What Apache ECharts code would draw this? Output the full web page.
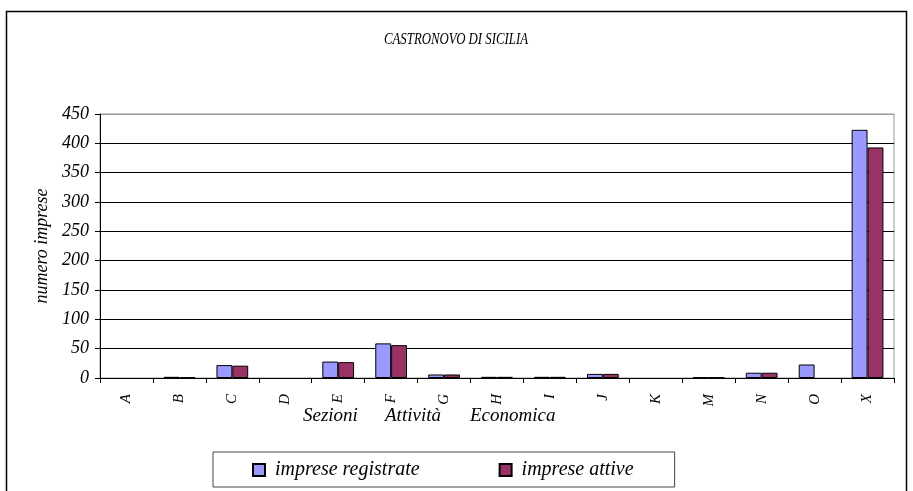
<!DOCTYPE html>
<html>
<head>
<meta charset="utf-8">
<script src="https://cdn.jsdelivr.net/npm/echarts@6/dist/echarts.min.js"></script>
<style>
html,body{margin:0;padding:0;background:#fff;}
#c{width:913px;height:491px;}
</style>
</head>
<body>
<div id="c"></div>
<script>
const categories = ['A','B','C','D','E','F','G','H','I','J','K','M','N','O','X'];
const impreseRegistrate = [0, 2, 22, 0, 28, 59, 6, 2, 2, 7, 0, 1, 9, 23, 423];
const impreseAttive     = [0, 1, 21, 0, 27, 56, 6, 2, 2, 7, 0, 1, 9, 0, 393];
const yTicks = [0, 50, 100, 150, 200, 250, 300, 350, 400, 450];
const chartTitle = 'CASTRONOVO DI SICILIA';
const xTitleWords = ['Sezioni', 'Attività', 'Economica'];
const yTitle = 'numero imprese';

const FONT = '"Liberation Serif", "Times New Roman", serif';
// zero values are not drawn (no outlined empty bar), as in the reference
const toBars = arr => arr.map(v => (v === 0 ? '-' : v));
const splitColors = yTicks.map((t, i) => (i === yTicks.length - 1 ? '#999' : '#000'));
const xWordPos = [303, 385, 470];

const chart = echarts.init(document.getElementById('c'), null, {renderer: 'canvas'});
chart.setOption({
  animation: false,
  backgroundColor: '#fff',
  grid: {left: 100, right: 19, top: 114, bottom: 113, show: true, borderColor: '#999', borderWidth: 1},
  legend: {
    data: ['imprese registrate', 'imprese attive'],
    left: 213, top: 452,
    padding: [8, 41, 7, 39],
    itemGap: 79,
    borderColor: '#444', borderWidth: 1,
    itemWidth: 12, itemHeight: 12,
    icon: 'rect',
    textStyle: {fontFamily: FONT, fontStyle: 'italic', fontSize: 20, color: '#000', padding: [0, 0, 0, 5]}
  },
  xAxis: {
    type: 'category', data: categories,
    axisLine: {lineStyle: {color: '#000', width: 1}},
    axisTick: {show: true, length: 5, lineStyle: {color: '#000'}},
    axisLabel: {rotate: 90, margin: 16, fontFamily: FONT, fontStyle: 'italic', fontSize: 15, color: '#000'},
    splitLine: {show: false}
  },
  yAxis: {
    type: 'value', min: yTicks[0], max: yTicks[yTicks.length - 1], interval: 50,
    name: yTitle, nameLocation: 'middle', nameGap: 44, nameRotate: 90,
    nameTextStyle: {fontFamily: FONT, fontStyle: 'italic', fontSize: 18, color: '#000'},
    axisLine: {show: true, lineStyle: {color: '#000', width: 1}},
    axisTick: {show: true, length: 5, lineStyle: {color: '#000'}},
    axisLabel: {margin: 11, fontFamily: FONT, fontStyle: 'italic', fontSize: 18, color: '#000'},
    splitLine: {show: true, lineStyle: {color: splitColors, width: 1}}
  },
  series: [
    {name: 'imprese registrate', type: 'bar', data: toBars(impreseRegistrate), barGap: '0%', barCategoryGap: '40%',
     itemStyle: {color: '#9999FF', borderColor: '#000', borderWidth: 1}},
    {name: 'imprese attive', type: 'bar', data: toBars(impreseAttive),
     itemStyle: {color: '#993366', borderColor: '#000', borderWidth: 1}}
  ],
  graphic: [
    {type: 'rect', silent: true, z: -10,
     shape: {x: 6.5, y: 11.5, width: 900, height: 490}, style: {fill: 'none', stroke: '#000', lineWidth: 1.5}},
    {type: 'text', x: 384, y: 32, scaleX: 0.8,
     style: {text: chartTitle, fontFamily: FONT, fontStyle: 'italic', fontSize: 16, fill: '#000'}}
  ].concat(xTitleWords.map((w, i) => ({
    type: 'text', x: xWordPos[i], y: 406,
    style: {text: w, fontFamily: FONT, fontStyle: 'italic', fontSize: 19, fill: '#000'}
  })))
});
</script>
</body>
</html>
